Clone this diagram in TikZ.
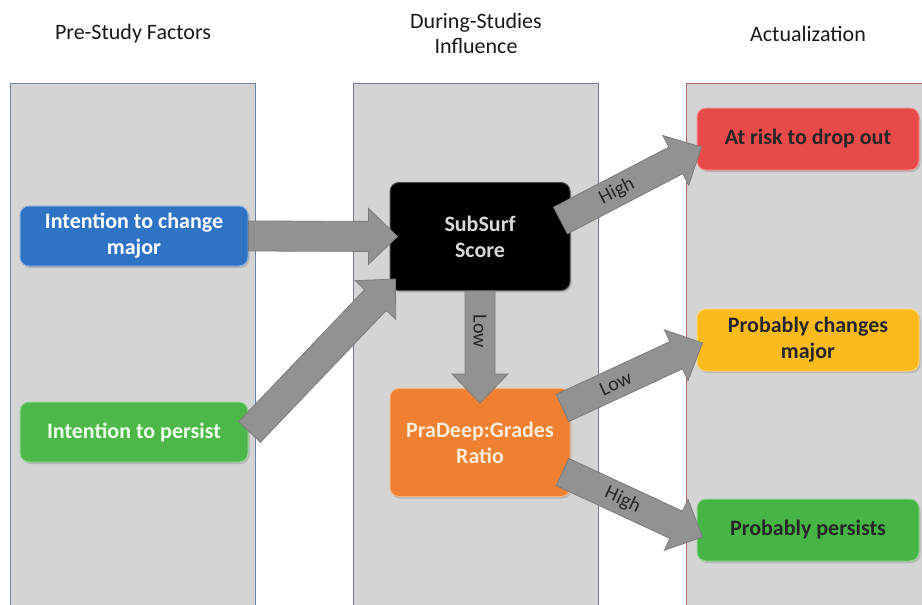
\documentclass[tikz,border=0pt]{standalone}
\usepackage{fontspec}
\setmainfont{Carlito}
\usetikzlibrary{calc,shadows}

\definecolor{panelfill}{HTML}{D4D4D4}
\definecolor{panelblue}{HTML}{6F85A8}
\definecolor{panelpurple}{HTML}{7E6F9E}
\definecolor{panelred}{HTML}{B26464}
\definecolor{cBlue}{HTML}{2F73C4}
\definecolor{cGreen}{HTML}{4DB849}
\definecolor{cOrange}{HTML}{EF7F31}
\definecolor{cRed}{HTML}{E84A4A}
\definecolor{cYellow}{HTML}{FBBA1C}
\definecolor{cGreenB}{HTML}{47B546}
\definecolor{arrowgray}{HTML}{929292}
\definecolor{arrowedge}{HTML}{7C7C7C}

% half widths and head length of the block arrows
\newcommand\shafthw{15pt}
\newcommand\headhw{28pt}
\newcommand\headlen{29pt}

% #1 start, #2 tip, #3 label, #4 label position along the arrow
\newcommand\blockarrow[4]{%
  \coordinate (ba-s) at (#1);
  \coordinate (ba-t) at (#2);
  \coordinate (ba-h) at ($(ba-t)!\headlen!(ba-s)$);
  \draw[arrowbody]
    ($(ba-s)!\shafthw!90:(ba-t)$) -- ($(ba-h)!\shafthw!90:(ba-t)$) --
    ($(ba-h)!\headhw!90:(ba-t)$) -- (ba-t) --
    ($(ba-h)!\headhw!-90:(ba-t)$) -- ($(ba-h)!\shafthw!-90:(ba-t)$) --
    ($(ba-s)!\shafthw!-90:(ba-t)$) -- cycle;
  \if\relax\detokenize{#3}\relax\else
    \path (ba-s) -- (ba-t) node[arrowlabel, pos=#4, sloped] {#3};
  \fi
}

\begin{document}
\begin{tikzpicture}[x=1pt, y=-1pt,
  panel/.style={fill=panelfill, line width=1pt},
  box/.style={rounded corners=9pt, align=center, inner sep=2pt,
    font=\fontsize{22}{26}\selectfont\bfseries, line width=1pt,
    drop shadow={shadow xshift=1.5pt, shadow yshift=-2pt, opacity=.35}},
  wbox/.style={box, minimum width=228pt, minimum height=60pt},
  cbox/.style={box, minimum width=180pt, minimum height=108pt},
  rbox/.style={box, minimum width=222pt, minimum height=62pt},
  arrowbody/.style={fill=arrowgray, draw=arrowedge, line width=.8pt, line join=miter},
  arrowlabel/.style={font=\fontsize{20}{22}\selectfont, text=black!85, inner sep=1pt},
  heading/.style={font=\fontsize{22}{25}\selectfont, text=black!90, align=center}]

\useasboundingbox (0,0) rectangle (922,605);
\clip (0,0) rectangle (922,605);
\fill[white] (0,0) rectangle (922,605);

% column panels
\draw[panel, draw=panelblue]   (10,83)  rectangle (255,612);
\draw[panel, draw=panelpurple] (353,83) rectangle (598,612);
\draw[panel, draw=panelred]    (686,83) rectangle (930,612);

% column headings
\node[heading] (h1) at (133,34) {Pre-Study Factors};
\node[heading] (h2) at (476,33) {During-Studies\\Influence};
\node[heading] (h3) at (808,34) {Actualization};

% pre-study factors
\node[wbox, fill=cBlue, draw=cBlue!60!white, text=white] (change) at (134,236) {Intention to change\\major};
\node[wbox, fill=cGreen, draw=cGreen!60!white, text=green!8!white] (persist) at (134,432) {Intention to persist};

% during-studies influence
\node[cbox, fill=black, draw=black!70, text=black!15] (sub) at (480,236.5) {SubSurf\\Score};
\node[cbox, fill=cOrange, draw=cOrange!60!white, text=orange!15!white] (pra) at (480,442.5) {PraDeep:Grades\\Ratio};

% actualization
\node[rbox, fill=cRed, draw=cRed!60!white, text=black!85] (risk) at (808,139) {At risk to drop out};
\node[rbox, fill=cYellow, draw=cYellow!60!white, text=black!85] (major) at (808,340) {Probably changes\\major};
\node[rbox, fill=cGreenB, draw=cGreenB!60!white, text=black!85] (stays) at (808,530) {Probably persists};

% connectors
\blockarrow{change.east}{[xshift=8pt]sub.west}{}{.5}
\blockarrow{[xshift=1pt]persist.east}{[shift={(6pt,12pt)}]sub.south west}{}{.5}
\blockarrow{sub.south}{[yshift=-15pt]pra.north}{Low}{.36}
\blockarrow{[shift={(-10pt,16pt)}]sub.east}{[shift={(5pt,-8pt)}]risk.west}{High}{.4}
\blockarrow{[shift={(-8pt,-20pt)}]pra.north east}{[shift={(6pt,-3pt)}]major.west}{Low}{.38}
\blockarrow{[shift={(-8pt,25pt)}]pra.south east}{[shift={(6pt,-7pt)}]stays.west}{High}{.43}

\end{tikzpicture}
\end{document}
